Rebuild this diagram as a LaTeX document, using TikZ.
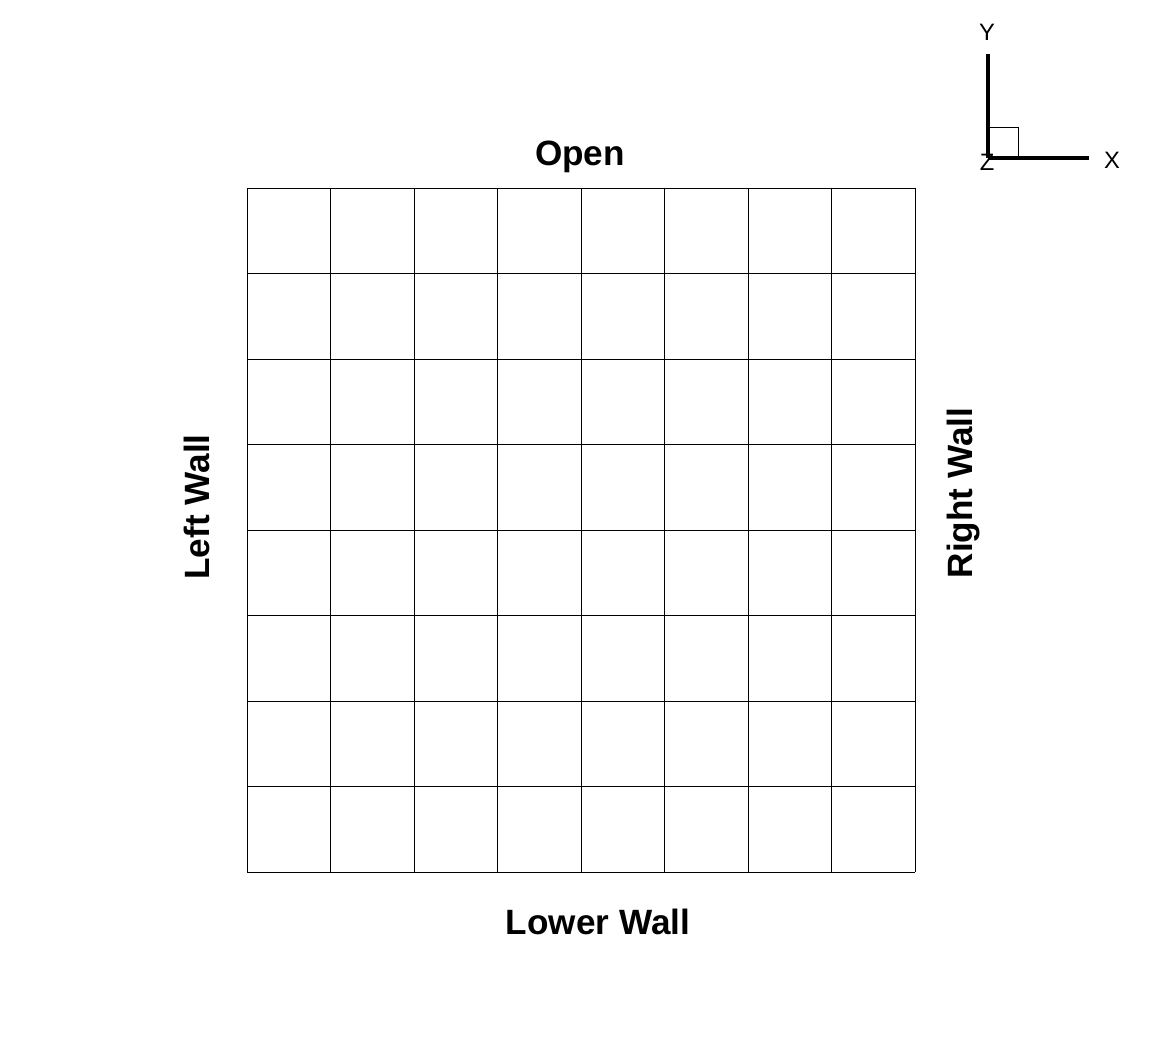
\documentclass[tikz,border=0pt]{standalone}
\usepackage{fontspec}
\setmainfont{Liberation Sans}
\usetikzlibrary{positioning}

\begin{document}
\begin{tikzpicture}[x=0.02cm, y=-0.02cm,
    every node/.style={inner sep=0pt},
    wallname/.style={font=\fontsize{20}{24}\selectfont\bfseries},
    axisname/.style={font=\fontsize{13.5}{16}\selectfont},
    axisline/.style={line width=2.3pt}]
  \useasboundingbox (0,0) rectangle (1162,1060);
  % mesh
  \foreach \i in {0,...,8} {
    \draw[line width=0.5pt] ({247+\i*83.5},188) -- ({247+\i*83.5},872);
    \draw[line width=0.5pt] (247,{188+\i*85.5}) -- (915,{188+\i*85.5});
  }
  \node[wallname] (open) at (580,157) {Open};
  \node[wallname] (lower) at (598,922) {Lower Wall};
  \node[wallname,rotate=90] (left) at (197,507) {Left Wall};
  \node[wallname,rotate=90] (right) at (963,493) {Right Wall};
  % axis triad
  \coordinate (o) at (988,158);
  \coordinate (ytip) at (988,54);
  \coordinate (xtip) at (1089,158);
  \draw[axisline] (o) -- (ytip);
  \draw[axisline] (o) -- (xtip);
  \draw[line width=0.5pt] (988,127) rectangle (1018,158);
  \node[axisname] (ylab) at (987,32) {Y};
  \node[axisname] (xlab) at (1112,160) {X};
  \node[axisname] (zlab) at (987,162) {Z};
\end{tikzpicture}
\end{document}
